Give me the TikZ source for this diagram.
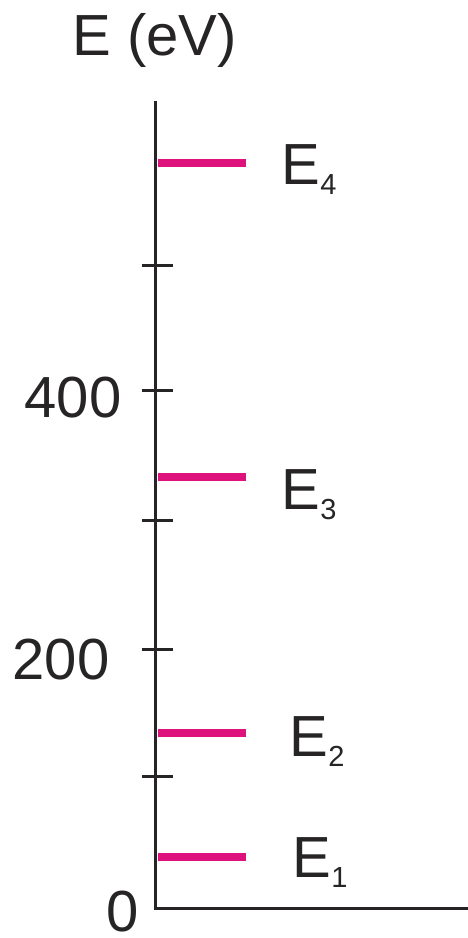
\documentclass[tikz,border=0pt]{standalone}
\usepackage{fontspec}
\setmainfont{Liberation Sans}
\usepackage{tikz}
\definecolor{levelpink}{RGB}{222,18,124}
\definecolor{axisgrey}{RGB}{38,36,36}
\newcommand{\lvlname}[1]{E\raisebox{-10pt}{\fontsize{29}{30}\selectfont #1}}

\begin{document}
\begin{tikzpicture}[x=1pt,y=1.29pt,
  axisline/.style={axisgrey,line width=3pt},
  levelline/.style={levelpink,line width=8pt},
  biglabel/.style={text=axisgrey,inner sep=0pt,font=\fontsize{58}{60}\selectfont}]
  \useasboundingbox (-156pt,-30pt) rectangle (312pt,908pt);
  % axes: y in eV, x in pt
  \coordinate (origin) at (0,0);
  \coordinate (ytop) at (0,625.6);
  \coordinate (xend) at (312,0);
  \draw[axisline] (ytop) -- (origin) -- (xend);
  \foreach \e in {102,200,300,401,498}
    \draw[axisline] (-14,\e) -- (17,\e);
  \node[biglabel,anchor=base east] (t400) at (-34.5,380.6) {400};
  \node[biglabel,anchor=base east] (t200) at (-46.5,177.5) {200};
  \node[biglabel,anchor=base east] (t0) at (-17.5,-18.5) {0};
  \node[biglabel,anchor=base west] (title) at (-83.6,661.2) {E (eV)};
  % energy levels
  \foreach \e in {39.5,135.7,334.1,577.5}
    \draw[levelline] (2,\e) -- (90,\e);
  \node[biglabel,anchor=base west] (lab4) at (125.4,560.5) {\lvlname{4}};
  \node[biglabel,anchor=base west] (lab3) at (125.4,309.3) {\lvlname{3}};
  \node[biglabel,anchor=base west] (lab2) at (133.4,117.8) {\lvlname{2}};
  \node[biglabel,anchor=base west] (lab1) at (136.4,24.0) {\lvlname{1}};
\end{tikzpicture}
\end{document}
